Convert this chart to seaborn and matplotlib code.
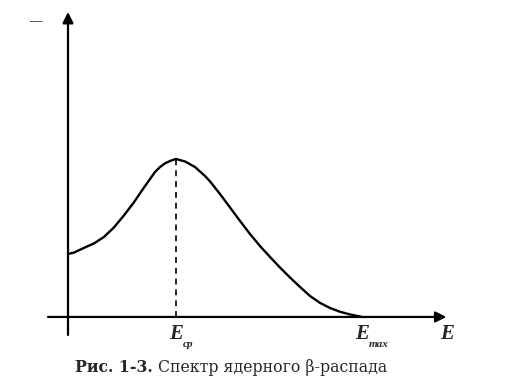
import numpy as np
import pandas as pd
import matplotlib
matplotlib.use("Agg")
import matplotlib.pyplot as plt
import seaborn as sns

# Spectrum (E in units of E_max, N normalised to the peak)
energy = [0.000, 0.020, 0.054, 0.088, 0.122, 0.156, 0.190, 0.224, 0.255, 0.279,
          0.296, 0.313, 0.330, 0.347, 0.367, 0.398, 0.432, 0.466, 0.483, 0.517,
          0.551, 0.585, 0.619, 0.653, 0.687, 0.721, 0.755, 0.789, 0.823, 0.857,
          0.891, 0.925, 0.959, 1.000]
intensity = [0.399, 0.407, 0.437, 0.465, 0.506, 0.566, 0.642, 0.725, 0.810, 0.873,
             0.918, 0.949, 0.972, 0.987, 1.000, 0.984, 0.949, 0.892, 0.858, 0.778,
             0.693, 0.608, 0.525, 0.449, 0.380, 0.313, 0.250, 0.190, 0.133, 0.089,
             0.057, 0.033, 0.016, 0.000]

x_labels = ["ср", "max"]
axis_label = "E"
caption_bold = "Рис. 1-3."
caption_text = " Спектр ядерного β-распада"

df = pd.DataFrame({"E": energy, "N": intensity})
e_peak = df.loc[df["N"].idxmax(), "E"]
n_peak = df["N"].max()
e_max = df["E"].max()

sns.set_style("white")
plt.rcParams["font.family"] = ["Liberation Serif", "DejaVu Serif"]

fig = plt.figure(figsize=(5.14, 3.92), dpi=100)
ax = fig.add_axes([0, 0, 1, 1])

# pixel-ish frame: origin at (68, 317) px, 294 px per E_max, 158 px per peak
ax.set_xlim(-0.2313, 1.517)
ax.set_ylim(-0.475, 2.006)
ax.axis("off")

sns.lineplot(data=df, x="E", y="N", ax=ax, color="black", linewidth=1.7, sort=False)

# axes with arrows
arrow = dict(arrowstyle="-|>", color="black", lw=1.6, mutation_scale=16,
             shrinkA=0, shrinkB=0)
ax.annotate("", xy=(0, 1.93), xytext=(0, -0.114), arrowprops=arrow)
ax.annotate("", xy=(1.287, 0), xytext=(-0.068, 0), arrowprops=arrow)

# dashed drop line at the mean energy
ax.plot([e_peak, e_peak], [0, n_peak], color="black", lw=1.2, ls=(0, (3.5, 3)))

# E labels
lab_y = -0.14
for xv, sub in zip([e_peak, e_max], x_labels):
    ax.text(xv - 0.022, lab_y, "E", fontsize=15, fontweight="bold", style="italic",
            ha="left", va="baseline")
    ax.text(xv + 0.024, lab_y - 0.05, sub, fontsize=8, style="italic",
            fontweight="bold", ha="left", va="baseline")
ax.text(1.29, lab_y, axis_label, fontsize=15, fontweight="bold", style="italic",
        ha="center", va="baseline")

# small dash by the ordinate
ax.text(-0.112, 1.87, "—", fontsize=9, fontweight="bold", ha="center", va="center")

# caption
cap_y = -0.348
t1 = ax.text(0.024, cap_y, caption_bold, fontsize=11.3, fontweight="bold",
             family="DejaVu Serif", ha="left", va="baseline")
fig.canvas.draw()
bb = t1.get_window_extent()
x_next = ax.transData.inverted().transform((bb.x1, bb.y0))[0]
ax.text(x_next, cap_y, caption_text, fontsize=11.3, family="DejaVu Serif",
        ha="left", va="baseline")

fig.savefig("out.png", dpi=100)
